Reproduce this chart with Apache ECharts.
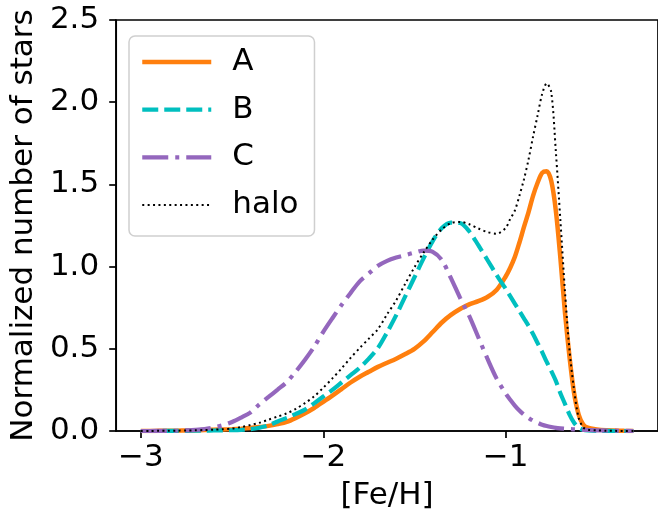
<!DOCTYPE html>
<html>
<head>
<meta charset="utf-8">
<script src="https://cdn.jsdelivr.net/npm/echarts@6/dist/echarts.min.js"></script>
<style>
html,body{margin:0;padding:0;background:#fff;}
#chart{width:658px;height:521px;}
</style>
</head>
<body>
<div id="chart"></div>
<script>
const xs = [-3.0,-2.95,-2.9,-2.85,-2.8,-2.75,-2.7,-2.65,-2.6,-2.55,-2.5,-2.45,-2.4,-2.35,-2.3,-2.25,-2.2,-2.15,-2.1,-2.05,-2.0,-1.95,-1.9,-1.85,-1.8,-1.75,-1.7,-1.65,-1.6,-1.55,-1.5,-1.45,-1.4,-1.35,-1.3,-1.25,-1.2,-1.15,-1.1,-1.05,-1.0,-0.975,-0.95,-0.925,-0.9,-0.875,-0.85,-0.825,-0.8,-0.775,-0.75,-0.725,-0.7,-0.675,-0.65,-0.625,-0.6,-0.575,-0.55,-0.5,-0.45,-0.4,-0.35,-0.3];

const seriesA = [0,0,0.001,0.001,0.002,0.003,0.004,0.006,0.008,0.009,0.011,0.014,0.018,0.024,0.031,0.042,0.056,0.08,0.108,0.14,0.177,0.215,0.255,0.295,0.33,0.36,0.39,0.415,0.44,0.468,0.5,0.545,0.602,0.66,0.706,0.742,0.77,0.79,0.815,0.858,0.94,0.993,1.058,1.145,1.24,1.33,1.43,1.51,1.57,1.58,1.52,1.34,1.05,0.72,0.45,0.23,0.1,0.04,0.02,0.01,0.005,0.003,0.001,0];

const seriesB = [0,0,0,0.001,0.001,0.001,0.002,0.002,0.003,0.004,0.005,0.007,0.011,0.02,0.034,0.058,0.08,0.104,0.13,0.168,0.21,0.25,0.295,0.34,0.385,0.44,0.505,0.6,0.705,0.82,0.935,1.05,1.155,1.235,1.268,1.265,1.215,1.13,1.04,0.95,0.865,0.82,0.775,0.73,0.685,0.64,0.59,0.535,0.48,0.42,0.365,0.305,0.23,0.165,0.1,0.05,0.02,0.007,0.003,0.001,0.001,0,0,0];

const seriesC = [0,0,0.001,0.001,0.002,0.004,0.007,0.012,0.022,0.035,0.055,0.082,0.112,0.162,0.207,0.252,0.298,0.362,0.433,0.512,0.603,0.686,0.766,0.84,0.91,0.958,1.005,1.035,1.055,1.07,1.085,1.097,1.09,1.04,0.93,0.81,0.7,0.57,0.44,0.32,0.228,0.19,0.155,0.125,0.1,0.08,0.063,0.05,0.038,0.03,0.024,0.019,0.016,0.014,0.012,0.01,0.009,0.007,0.006,0.004,0.003,0.002,0.001,0];

const seriesHalo = [0,0,0.001,0.001,0.002,0.003,0.004,0.006,0.008,0.011,0.015,0.024,0.036,0.05,0.069,0.088,0.107,0.135,0.17,0.21,0.263,0.32,0.38,0.445,0.505,0.562,0.62,0.71,0.795,0.897,0.996,1.085,1.165,1.227,1.265,1.272,1.258,1.232,1.21,1.2,1.235,1.29,1.34,1.43,1.53,1.65,1.79,1.92,2.05,2.115,2.06,1.7,1.28,0.85,0.49,0.25,0.08,0.022,0.008,0.004,0.002,0.001,0,0];

const xTicks = [-3, -2, -1];
const yTicks = [0, 0.5, 1.0, 1.5, 2.0, 2.5];
const names = ['A', 'B', 'C', 'halo'];

const FONT = 'DejaVu Sans';
const FS = 31;

const styles = {
  A:    {color: '#ff7f0e', width: 4.5, type: 'solid'},
  B:    {color: '#00bfbf', width: 4.2, type: [16, 6]},
  C:    {color: '#9467bd', width: 4.2, type: [26, 7, 4, 7]},
  halo: {color: '#000000', width: 2, type: [2, 3.4]}
};

function pairs(ys) { return xs.map((x, i) => [x, ys[i]]); }
const values = {A: seriesA, B: seriesB, C: seriesC, halo: seriesHalo};

const chart = echarts.init(document.getElementById('chart'), null, {renderer: 'canvas'});
const option = {
  animation: false,
  backgroundColor: '#ffffff',
  textStyle: {fontFamily: FONT},
  grid: {
    left: 113, top: 20, right: -6, bottom: 90,
    show: true, borderColor: '#000', borderWidth: 1.7, backgroundColor: 'transparent'
  },
  legend: {
    orient: 'vertical',
    left: 129, top: 36,
    padding: [10, 16, 15, 11],
    itemWidth: 69, itemHeight: 14, itemGap: 15.7,
    backgroundColor: '#ffffff',
    borderColor: '#cfcfcf', borderWidth: 1.5, borderRadius: 6,
    itemStyle: {opacity: 0},
    textStyle: {fontFamily: FONT, fontSize: FS, color: '#000', lineHeight: 32, padding: [0, 0, 0, 16]},
    data: names.map(n => ({
      name: n,
      itemStyle: {opacity: 0},
      lineStyle: {color: styles[n].color, width: styles[n].width, type: styles[n].type, opacity: 1}
    }))
  },
  xAxis: {
    type: 'value',
    min: -3.135, max: -0.165,
    name: '[Fe/H]', nameLocation: 'middle', nameGap: 49,
    nameTextStyle: {fontFamily: FONT, fontSize: FS, color: '#000'},
    splitLine: {show: false},
    axisLine: {show: true, lineStyle: {color: '#000', width: 1.7}},
    axisTick: {show: true, inside: false, length: 7, customValues: xTicks, lineStyle: {color: '#000', width: 1.7}},
    axisLabel: {
      show: true, margin: 11, customValues: xTicks,
      fontFamily: FONT, fontSize: FS, color: '#000',
      formatter: v => String(v).replace('-', '\u2212')
    }
  },
  yAxis: {
    type: 'value',
    min: 0, max: 2.5, interval: 0.5,
    name: 'Normalized number of stars', nameLocation: 'middle', nameGap: 76,
    nameTextStyle: {fontFamily: FONT, fontSize: FS, color: '#000'},
    splitLine: {show: false},
    axisLine: {show: true, lineStyle: {color: '#000', width: 1.7}},
    axisTick: {show: true, inside: false, length: 7, customValues: yTicks, lineStyle: {color: '#000', width: 1.7}},
    axisLabel: {
      show: true, margin: 17, customValues: yTicks,
      fontFamily: FONT, fontSize: FS, color: '#000',
      formatter: v => Number(v).toFixed(1)
    }
  },
  series: names.map(n => ({
    name: n, type: 'line', data: pairs(values[n]),
    showSymbol: false, symbol: 'none', smooth: 0.3,
    color: styles[n].color,
    lineStyle: {color: styles[n].color, width: styles[n].width, type: styles[n].type}
  }))
};
chart.setOption(option);
</script>
</body>
</html>
